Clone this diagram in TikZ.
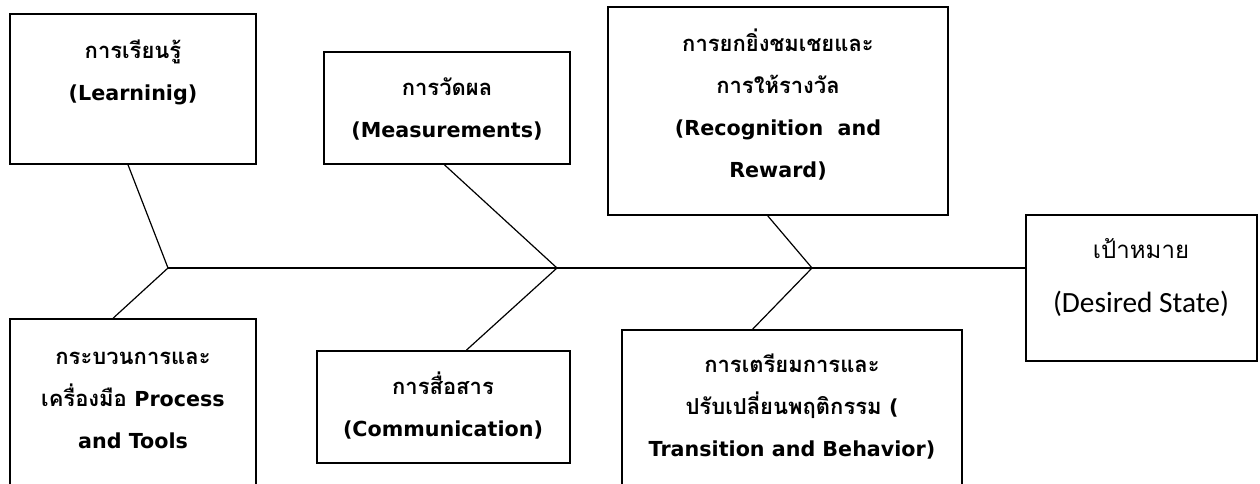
\documentclass[tikz,border=0pt]{standalone}
\usepackage{fontspec}
\setmainfont[Script=Thai]{Loma}
\newfontfamily\engfont{DejaVu Sans}
\newfontfamily\calfont{Carlito}
\newcommand\eng[1]{{\engfont\fontsize{15.5}{31.5}\selectfont #1}}
\usetikzlibrary{calc,fit}

\begin{document}
\begin{tikzpicture}[x=0.75pt,y=-0.75pt,
  box/.style={draw, line width=1.3pt, inner sep=0pt},
  txt/.style={anchor=north, align=center, inner sep=0pt,
    font=\fontsize{16.5}{31.5}\selectfont\bfseries, execute at begin node=\strut},
  goaltxt/.style={anchor=north, align=center, inner sep=0pt,
    font=\fontsize{18}{41}\selectfont, execute at begin node=\strut},
  bone/.style={line width=0.9pt}]
\clip (0,0) rectangle (1260,484);

\node[box, fit={(10,14) (256,164)}] (learn) {};
\node[box, fit={(324,52) (570,164)}] (meas) {};
\node[box, fit={(608,7) (948,215)}] (recog) {};
\node[box, fit={(10,319) (256,520)}] (proc) {};
\node[box, fit={(317,351) (570,463)}] (comm) {};
\node[box, fit={(622,330) (962,520)}] (trans) {};
\node[box, fit={(1026,215) (1257,361)}] (goal) {};

\node[txt] (learntxt) at (133,40) {การเรียนรู้\\\eng{(Learninig)}};
\node[txt] (meastxt) at (447,77) {การวัดผล\\\eng{(Measurements)}};
\node[txt] (recogtxt) at (778,29) {การยกยิ่งชมเชยและ\\การให้รางวัล\\\eng{(Recognition\ \ and}\\\eng{Reward)}};
\node[txt] (proctxt) at (133,352) {กระบวนการและ\\เครื่องมือ \eng{Process}\\\eng{and Tools}};
\node[txt] (commtxt) at (443,372) {การสื่อสาร\\\eng{(Communication)}};
\node[txt] (transtxt) at (792,354) {การเตรียมการและ\\ปรับเปลี่ยนพฤติกรรม \eng{(}\\\eng{Transition and Behavior)}};
\node[goaltxt] (goaltext) at (1141,238) {เป้าหมาย\\{\calfont\fontsize{22}{41}\selectfont(Desired State)}};

\coordinate (j1) at (168,268);
\coordinate (j2) at (557,268);
\coordinate (j3) at (812,268);

\draw[bone] (j1) -- (j1 -| goal.west);

\draw[bone] ($(learn.south west)!0.48!(learn.south east)$) -- (j1);
\draw[bone] (j1) -- ($(proc.north west)!0.42!(proc.north east)$);

\draw[bone] ($(meas.south west)!0.49!(meas.south east)$) -- (j2);
\draw[bone] (j2) -- ($(comm.north west)!0.59!(comm.north east)$);

\draw[bone] ($(recog.south west)!0.47!(recog.south east)$) -- (j3);
\draw[bone] (j3) -- ($(trans.north west)!0.385!(trans.north east)$);
\end{tikzpicture}
\end{document}
